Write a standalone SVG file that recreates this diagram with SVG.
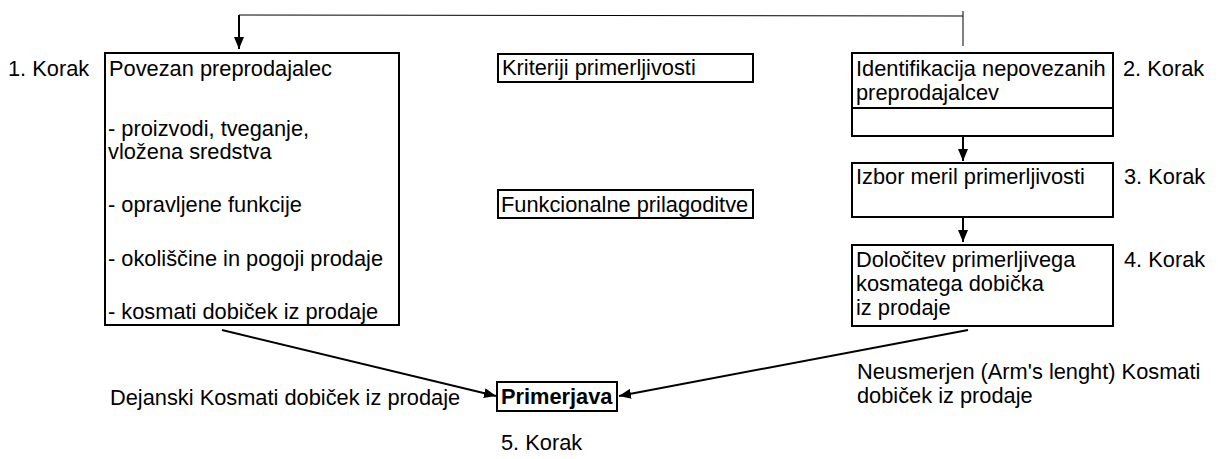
<svg xmlns="http://www.w3.org/2000/svg" width="1218" height="459" viewBox="0 0 1218 459">
<style>
text{font-family:"Liberation Sans",Arial,sans-serif;font-size:21.8px;fill:#000}
.b{fill:#fff;stroke:#000;stroke-width:2}
.c{stroke:#000;stroke-width:2;fill:none}
.t{stroke:#000;stroke-width:1;fill:none}
.bold{font-weight:bold}
</style>
<defs>
<marker id="ah" markerUnits="userSpaceOnUse" markerWidth="12" markerHeight="10" refX="12" refY="5" orient="auto">
<path d="M0,0 L12,5 L0,10 z" fill="#000"/>
</marker>
</defs>
<rect width="1218" height="459" fill="#fff"/>
<g id="connectors">
<polyline class="t" points="963,46 963,11"/>
<polyline class="t" points="963,16 239,15"/>
<line class="c" x1="239" y1="15" x2="239" y2="49" marker-end="url(#ah)"/>
<line class="c" x1="963" y1="136" x2="963" y2="161" marker-end="url(#ah)"/>
<line class="c" x1="963" y1="217" x2="963" y2="242" marker-end="url(#ah)"/>
<line class="c" x1="222" y1="330" x2="496" y2="396" marker-end="url(#ah)"/>
<line class="c" x1="968" y1="330" x2="619" y2="396" marker-end="url(#ah)"/>
</g>
<g id="step1">
<text x="8" y="76">1. Korak</text>
<rect class="b" x="105" y="53" width="294" height="272"/>
<text x="109" y="76">Povezan preprodajalec</text>
<text x="108" y="136">- proizvodi, tveganje,</text>
<text x="108" y="159">vložena sredstva</text>
<text x="108" y="212">- opravljene funkcije</text>
<text x="108" y="266">- okoliščine in pogoji prodaje</text>
<text x="108" y="319">- kosmati dobiček iz prodaje</text>
</g>
<g id="kriteriji">
<rect class="b" x="498" y="54" width="255" height="28"/>
<text x="502" y="75">Kriteriji primerljivosti</text>
</g>
<g id="funkcionalne">
<rect class="b" x="498" y="190" width="255" height="28"/>
<text x="501" y="212">Funkcionalne prilagoditve</text>
</g>
<g id="step2">
<rect class="b" x="852" y="53" width="261" height="83"/>
<line class="c" x1="852" y1="108" x2="1113" y2="108"/>
<text x="856" y="76">Identifikacija nepovezanih</text>
<text x="856" y="100">preprodajalcev</text>
<text x="1123" y="76">2. Korak</text>
</g>
<g id="step3">
<rect class="b" x="852" y="163" width="261" height="54"/>
<text x="856" y="184">Izbor meril primerljivosti</text>
<text x="1124" y="184">3. Korak</text>
</g>
<g id="step4">
<rect class="b" x="852" y="245" width="261" height="81"/>
<text x="856" y="267">Določitev primerljivega</text>
<text x="856" y="291">kosmatega dobička</text>
<text x="856" y="315">iz prodaje</text>
<text x="1124" y="267">4. Korak</text>
</g>
<g id="primerjava">
<rect class="b" x="497" y="382" width="120" height="29"/>
<text class="bold" x="501" y="404">Primerjava</text>
<text x="501" y="450">5. Korak</text>
</g>
<g id="labels">
<text x="110" y="405">Dejanski Kosmati dobiček iz prodaje</text>
<text x="857" y="379">Neusmerjen (Arm's lenght) Kosmati</text>
<text x="857" y="403">dobiček iz prodaje</text>
</g>
</svg>
